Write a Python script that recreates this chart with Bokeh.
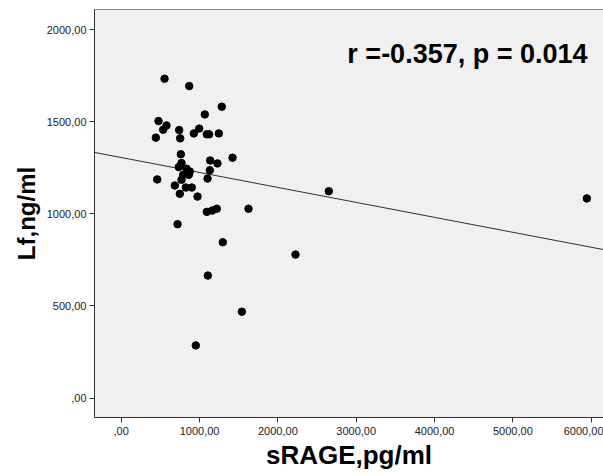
from bokeh.plotting import figure
from bokeh.models import LinearAxis, FixedTicker, Label, Range1d, ColumnDataSource
from bokeh.embed import file_html
from bokeh.resources import INLINE

# ---- data ----
srage = [553, 868, 1284, 1067, 476, 578, 536, 442, 740, 753, 996, 927, 1093, 1123,
         1246, 761, 1421, 1136, 1229, 770, 735, 834, 876, 791, 863, 1131, 460, 770,
         1102, 684, 825, 901, 748, 974, 1093, 1162, 1220, 1625, 719, 1297, 1106, 1540,
         952, 2225, 2650, 5944]
lf = [1734, 1694, 1582, 1540, 1504, 1480, 1457, 1414, 1455, 1410, 1463, 1437, 1432, 1432,
      1437, 1324, 1305, 1290, 1274, 1276, 1254, 1245, 1230, 1212, 1212, 1237, 1187, 1185,
      1192, 1154, 1143, 1143, 1109, 1094, 1011, 1018, 1028, 1028, 944, 846, 665, 469,
      286, 779, 1123, 1084]

fit_intercept = 1306.0
fit_slope = -0.0812

x_ticks = [0, 1000, 2000, 3000, 4000, 5000, 6000]
x_tick_labels = [",00", "1000,00", "2000,00", "3000,00", "4000,00", "5000,00", "6000,00"]
y_ticks = [0, 500, 1000, 1500, 2000]
y_tick_labels = [",00", "500,00", "1000,00", "1500,00", "2000,00"]

x_title = "sRAGE,pg/ml"
y_title = "Lf,ng/ml"
stats_text = "r =-0.357, p = 0.014"

X0, X1 = -341, 6157
Y0, Y1 = -105.5, 2109.7

FONT = "Liberation Sans"

p = figure(width=603, height=476, output_backend="svg", toolbar_location=None,
           x_range=Range1d(X0, X1), y_range=Range1d(Y0, Y1),
           min_border_left=94, min_border_right=0, min_border_top=9, min_border_bottom=59,
           background_fill_color="#f0f0f0", border_fill_color="#ffffff")
p.outline_line_color = None
p.grid.visible = False

for ax in (p.xaxis[0], p.yaxis[0]):
    ax.axis_line_color = "#333333"
    ax.axis_line_width = 1
    ax.major_tick_line_color = "#333333"
    ax.major_tick_out = 5
    ax.major_tick_in = 0
    ax.minor_tick_line_color = None
    ax.major_label_text_font = FONT
    ax.major_label_text_font_size = "11px"
    ax.major_label_text_color = "#222222"
    ax.axis_label_text_font = FONT
    ax.axis_label_text_font_style = "bold"
    ax.axis_label_text_color = "#000000"

p.xaxis[0].ticker = FixedTicker(ticks=x_ticks)
p.xaxis[0].major_label_overrides = dict(zip(x_ticks, x_tick_labels))
p.xaxis[0].major_label_standoff = 4
p.xaxis[0].axis_label = x_title
p.xaxis[0].axis_label_text_font_size = "26px"
p.xaxis[0].axis_label_standoff = 2

p.yaxis[0].ticker = FixedTicker(ticks=y_ticks)
p.yaxis[0].major_label_overrides = dict(zip(y_ticks, y_tick_labels))
p.yaxis[0].major_label_standoff = 3
p.yaxis[0].axis_label = y_title
p.yaxis[0].axis_label_text_font_size = "24px"
p.yaxis[0].axis_label_standoff = 4

top = LinearAxis(ticker=FixedTicker(ticks=[]), axis_line_color="#8a8a8a",
                 major_tick_line_color=None, minor_tick_line_color=None,
                 major_label_text_font_size="0px")
p.add_layout(top, "above")

# fit line
lx = [X0, X1]
ly = [fit_intercept + fit_slope * v for v in lx]
p.line(lx, ly, line_color="#303030", line_width=1)

src = ColumnDataSource(dict(x=srage, y=lf))
p.scatter("x", "y", source=src, size=7.5, fill_color="#000000", line_color="#000000")

p.add_layout(Label(x=5953, y=1866, text=stats_text, text_align="right",
                   text_baseline="alphabetic", text_font=FONT, text_font_style="bold",
                   text_font_size="27px", text_color="#000000"))

open("out.html", "w").write(file_html(p, INLINE))
